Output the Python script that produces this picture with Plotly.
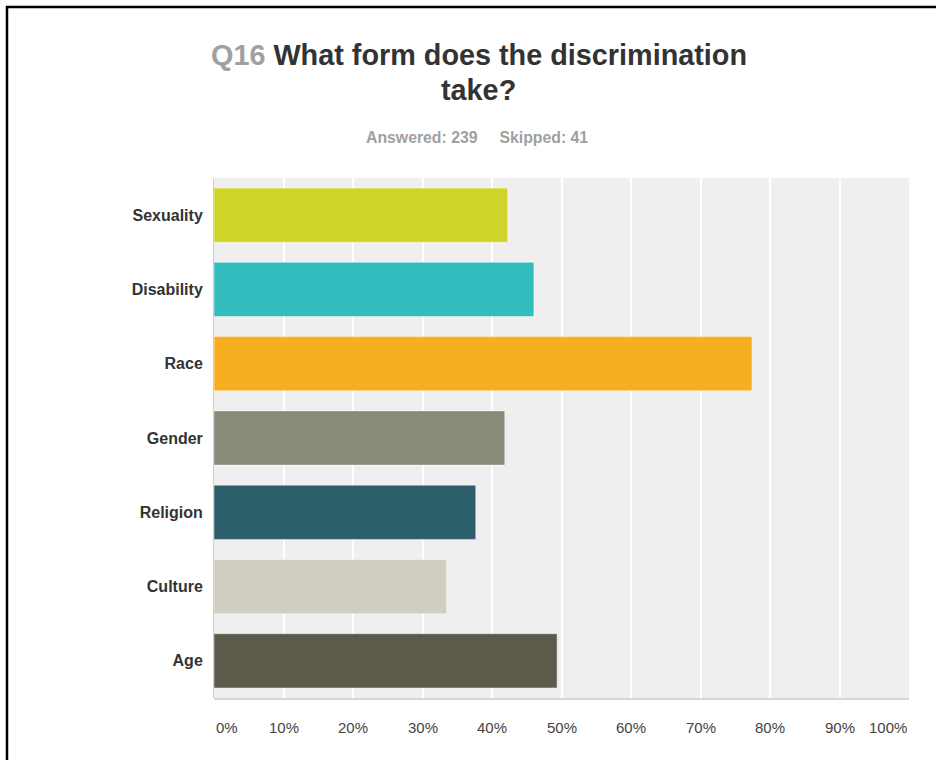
import plotly.graph_objects as go

# Survey responses (share of respondents, %)
categories = ["Sexuality", "Disability", "Race", "Gender", "Religion", "Culture", "Age"]
percentages = [42.26, 46.03, 77.41, 41.84, 37.66, 33.47, 49.37]
bar_colors = ["#cfd528", "#33bdbf", "#f7af1f", "#898a77", "#2d5f6b", "#cfcec1", "#5c5a4b"]

tick_values = [0, 10, 20, 30, 40, 50, 60, 70, 80, 90, 100]
tick_labels = ["0%", "10%", "20%", "30%", "40%", "50%", "60%", "70%", "80%", "90%", "100%"]

question_no = "Q16"
question_text = ["What form does the discrimination", "take?"]
answered, skipped = 239, 41

FONT = "Liberation Sans, Arial, sans-serif"
W, H = 936, 760
L, R, T, B = 214, 27, 178, 62
pw, ph = W - L - R, H - T - B


def px_x(x):
    return (x - L) / pw


def px_y(y):
    return (H - B - y) / ph


fig = go.Figure(
    go.Bar(
        x=percentages,
        y=categories,
        orientation="h",
        marker=dict(color=bar_colors, line=dict(color="rgba(255,255,255,0.45)", width=1)),
        hoverinfo="x+y",
    )
)

annotations = []
# Title, with the question number in grey
annotations.append(dict(
    x=px_x(479), y=px_y(55), xref="paper", yref="paper",
    text=f"<b><span style='color:#a0a0a0'>{question_no}</span> {question_text[0]}</b>",
    showarrow=False, xanchor="center", yanchor="middle",
    font=dict(family=FONT, size=28.8, color="#333333"),
))
annotations.append(dict(
    x=px_x(478), y=px_y(90), xref="paper", yref="paper",
    text=f"<b>{question_text[1]}</b>",
    showarrow=False, xanchor="center", yanchor="middle",
    font=dict(family=FONT, size=28.8, color="#333333"),
))
annotations.append(dict(
    x=px_x(477), y=px_y(137), xref="paper", yref="paper",
    text=f"<b>Answered: {answered}&nbsp;&nbsp;&nbsp;&nbsp;&nbsp;Skipped: {skipped}</b>",
    showarrow=False, xanchor="center", yanchor="middle",
    font=dict(family=FONT, size=15.8, color="#a0a0a0"),
))

# Percentage labels: first left-aligned, last right-aligned, others centred
for i, (v, lab) in enumerate(zip(tick_values, tick_labels)):
    anchor = "left" if i == 0 else ("right" if i == len(tick_values) - 1 else "center")
    annotations.append(dict(
        x=v, y=px_y(727), xref="x", yref="paper", text=lab,
        showarrow=False, xanchor=anchor, yanchor="middle",
        font=dict(family=FONT, size=15, color="#444444"),
    ))

shapes = [
    # outer frame (left and top edges)
    dict(type="line", xref="paper", yref="paper", x0=px_x(7), x1=px_x(7), y0=px_y(6), y1=px_y(770),
         line=dict(color="#000000", width=2.5)),
    dict(type="line", xref="paper", yref="paper", x0=px_x(6), x1=px_x(945), y0=px_y(7), y1=px_y(7),
         line=dict(color="#000000", width=2.5)),
    # axis baseline
    dict(type="line", xref="paper", yref="paper", x0=0, x1=1, y0=px_y(699), y1=px_y(699),
         line=dict(color="#d6d6d6", width=2)),
]

fig.update_layout(
    width=W, height=H,
    margin=dict(l=L, r=R, t=T, b=B, pad=0),
    paper_bgcolor="#ffffff",
    plot_bgcolor="#efefef",
    bargap=0.27,
    showlegend=False,
    annotations=annotations,
    shapes=shapes,
    font=dict(family=FONT),
)
fig.update_xaxes(
    range=[0, 100], tickvals=tick_values, showticklabels=False,
    showgrid=True, gridcolor="#ffffff", gridwidth=2, zeroline=False,
    showline=False, fixedrange=True,
)
fig.update_yaxes(
    autorange="reversed", showgrid=False, zeroline=False,
    showline=True, linecolor="#cfcfcf", linewidth=1,
    ticks="", ticklabelstandoff=7,
    tickfont=dict(family=FONT, size=16, color="#333333", weight="bold"),
    fixedrange=True,
)

fig.write_html("out.html")
